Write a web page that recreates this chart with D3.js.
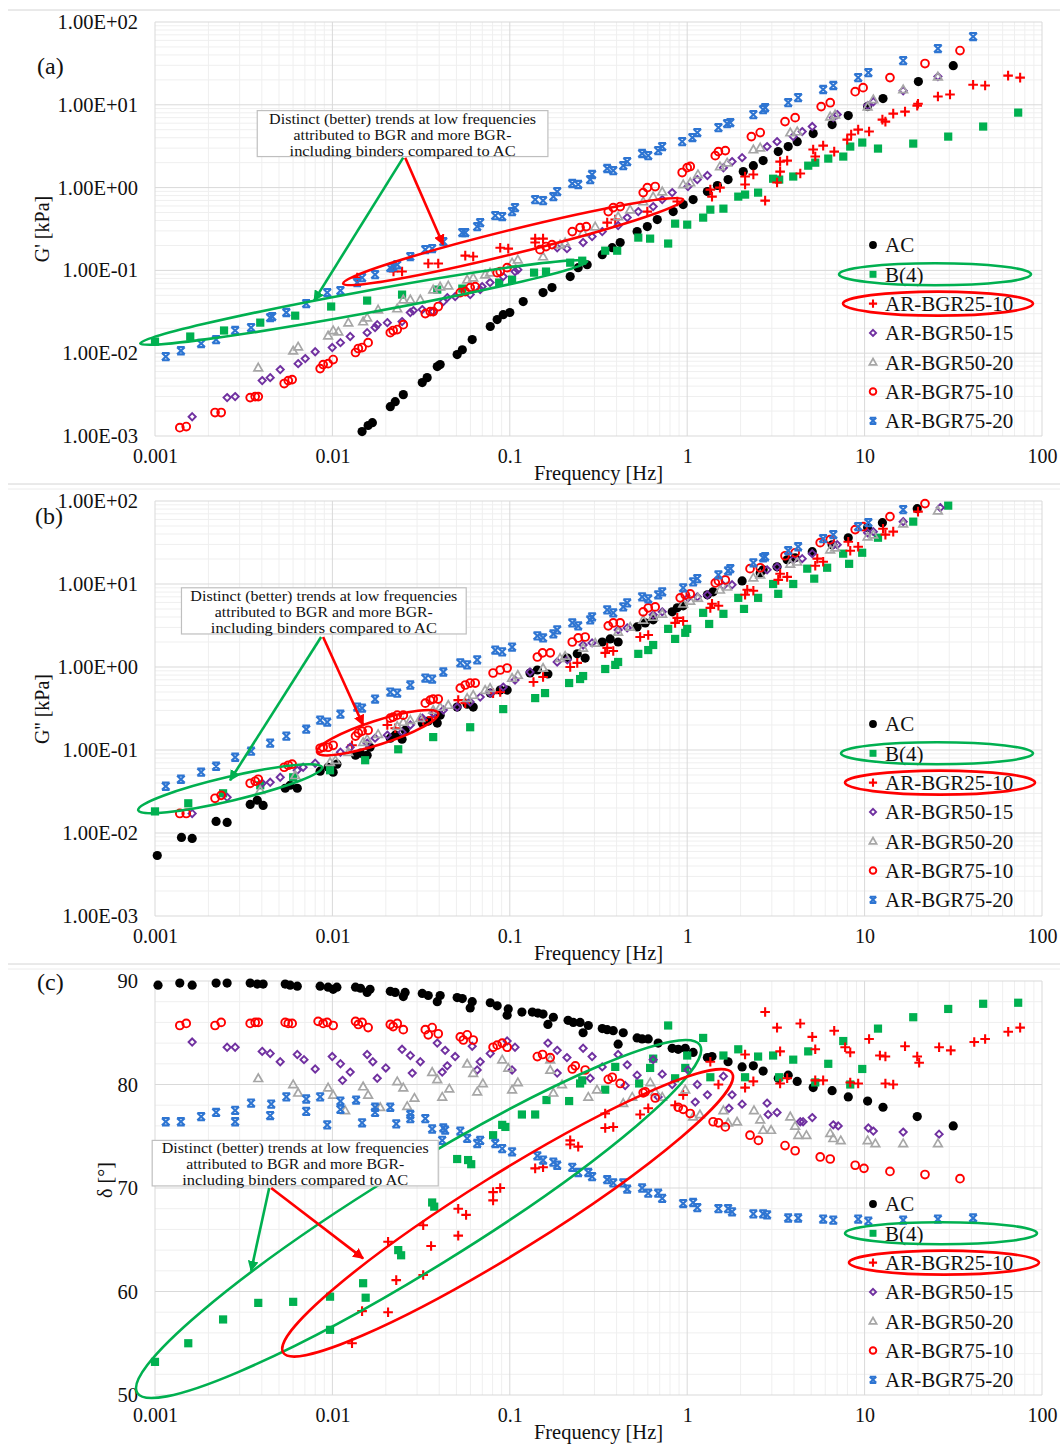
<!DOCTYPE html>
<html>
<head>
<meta charset="utf-8">
<script src="https://cdn.jsdelivr.net/npm/d3@7"></script>
<style>
  body { margin: 0; background: #fff; }
  svg text { font-family: "Liberation Serif", "Times New Roman", serif; fill: #111; }
</style>
</head>
<body>
<svg id="chart" width="1060" height="1444"></svg>
<script>
// ---- series (legend order) ----
const seriesNames = ["AC", "B(4)", "AR-BGR25-10", "AR-BGR50-15", "AR-BGR50-20", "AR-BGR75-10", "AR-BGR75-20"]
const seriesColors = ["#000000", "#00b050", "#ff0000", "#7030a0", "#a6a6a6", "#ff0000", "#2e75d2"]
const seriesShapes = ["dot", "square", "plus", "diamond", "triangle", "ring", "star"]

// ---- (a) G' [kPa] vs frequency [Hz] ----
const gp_AC = [[0.0147,0.00113],[0.0159,0.00134],[0.0168,0.00145],[0.0212,0.00226],[0.0226,0.0026],[0.0251,0.00316],[0.0321,0.00442],[0.0342,0.00507],[0.039,0.00689],[0.0405,0.00728],[0.0505,0.00962],[0.054,0.011],[0.0614,0.0146],[0.0776,0.021],[0.0849,0.0255],[0.0918,0.0292],[0.1,0.031],[0.119,0.042],[0.154,0.054],[0.173,0.062],[0.219,0.0842],[0.243,0.108],[0.273,0.117],[0.332,0.155],[0.378,0.188],[0.419,0.217],[0.522,0.294],[0.596,0.338],[0.678,0.411],[0.834,0.513],[0.949,0.624],[1.08,0.716],[1.3,0.895],[1.48,1.06],[1.7,1.25],[2.07,1.56],[2.36,1.84],[2.68,2.12],[3.26,2.72],[3.71,3.13],[4.17,3.59],[5.13,4.49],[6.56,5.77],[8.09,7.41],[10.4,9.51],[12.7,11.9],[20.1,19.1],[31.6,29.7]]
const gp_B4 = [[0.001,0.0138],[0.00158,0.0159],[0.00245,0.0188],[0.00392,0.0234],[0.00617,0.0284],[0.00984,0.0366],[0.0157,0.0432],[0.0247,0.051],[0.039,0.0586],[0.054,0.0603],[0.0871,0.0713],[0.103,0.0774],[0.137,0.094],[0.16,0.0968],[0.219,0.124],[0.256,0.131],[0.345,0.173],[0.403,0.173],[0.53,0.249],[0.618,0.242],[0.781,0.211],[0.855,0.367],[1.0,0.357],[1.23,0.434],[1.35,0.542],[1.6,0.557],[1.94,0.778],[2.12,0.823],[2.51,0.87],[3.05,1.28],[3.3,1.25],[3.96,1.36],[4.81,1.84],[5.27,2.0],[6.24,2.24],[7.58,2.37],[8.3,3.13],[9.7,3.5],[11.9,2.96],[18.8,3.4],[29.6,4.13],[46.6,5.46],[73.4,8.05]]
const gp_25_10 = [[0.0138,0.0818],[0.0221,0.0968],[0.0247,0.0968],[0.0347,0.121],[0.0395,0.121],[0.0561,0.151],[0.0622,0.147],[0.0883,0.188],[0.098,0.183],[0.139,0.242],[0.139,0.217],[0.154,0.242],[0.354,0.378],[0.393,0.411],[0.596,0.513],[0.879,0.678],[1.35,0.946],[1.53,1.0],[1.38,0.778],[2.12,1.36],[2.36,1.44],[2.12,1.09],[2.75,0.697],[3.21,1.15],[3.34,2.06],[3.66,2.12],[3.34,1.56],[4.34,1.48],[5.13,2.88],[5.84,3.21],[5.27,2.37],[6.74,2.72],[7.98,3.8],[8.4,4.37],[9.2,5.01],[10.6,4.75],[12.6,6.63],[13.1,6.27],[14.5,7.83],[16.9,8.28],[19.8,9.78],[20.0,10.3],[25.9,12.6],[30.3,13.3],[40.9,17.5],[47.8,17.1],[64.4,22.5],[75.3,21.3]]
const gp_50_15 = [[0.00162,0.00171],[0.00255,0.00291],[0.00283,0.00299],[0.00402,0.00467],[0.00446,0.00507],[0.00508,0.00634],[0.00641,0.00748],[0.00703,0.00861],[0.008,0.0104],[0.00998,0.0117],[0.0111,0.0134],[0.0126,0.0159],[0.0157,0.0177],[0.0174,0.0204],[0.0179,0.0221],[0.0204,0.0234],[0.0247,0.0241],[0.0275,0.031],[0.0286,0.0327],[0.0321,0.0336],[0.037,0.0318],[0.0422,0.042],[0.0444,0.0469],[0.0492,0.0483],[0.0598,0.051],[0.0681,0.0586],[0.0698,0.0637],[0.0774,0.0713],[0.0918,0.0842],[0.107,0.0968],[0.111,0.102],[0.185,0.188],[0.21,0.183],[0.259,0.217],[0.291,0.256],[0.332,0.294],[0.408,0.348],[0.459,0.434],[0.53,0.513],[0.643,0.59],[0.723,0.716],[0.823,0.87],[1.01,1.03],[1.14,1.25],[1.3,1.4],[1.6,1.74],[1.79,2.06],[2.04,2.3],[2.82,3.13],[3.21,3.59],[3.96,4.13],[4.45,4.75],[5.07,5.46],[6.66,7.0],[7.01,7.61],[10.4,9.78],[11.2,10.9],[16.5,14.8],[25.9,21.9]]
const gp_50_20 = [[0.00382,0.0067],[0.00601,0.0107],[0.00641,0.012],[0.00946,0.0163],[0.0101,0.0188],[0.0108,0.0182],[0.0123,0.0234],[0.0149,0.0241],[0.0157,0.0269],[0.0181,0.0336],[0.0232,0.0346],[0.0251,0.0444],[0.0275,0.0444],[0.0313,0.0444],[0.037,0.0586],[0.0405,0.0637],[0.045,0.0655],[0.0575,0.0774],[0.0622,0.0818],[0.0726,0.0889],[0.0774,0.094],[0.103,0.124],[0.111,0.135],[0.154,0.147],[0.192,0.205],[0.205,0.217],[0.259,0.286],[0.303,0.338],[0.408,0.447],[0.477,0.542],[0.565,0.678],[0.643,0.778],[0.723,0.895],[0.949,1.09],[1.04,1.15],[1.15,1.44],[1.53,1.8],[1.68,2.0],[2.36,2.88],[2.58,3.04],[3.81,4.62],[4.17,4.75],[6.4,7.2],[6.82,7.61],[10.4,9.51],[11.2,11.6],[16.5,15.3],[25.9,21.9]]
const gp_75_10 = [[0.00138,0.00126],[0.0015,0.0013],[0.00218,0.00192],[0.00236,0.00192],[0.00344,0.00291],[0.00367,0.00299],[0.00382,0.00299],[0.00535,0.0043],[0.00564,0.00467],[0.00593,0.0048],[0.00853,0.00652],[0.00887,0.00728],[0.00946,0.00748],[0.0101,0.00838],[0.0135,0.0102],[0.014,0.0114],[0.0147,0.0117],[0.0159,0.0134],[0.0212,0.0177],[0.022,0.0188],[0.0232,0.0193],[0.0251,0.0221],[0.0334,0.0301],[0.0356,0.0318],[0.037,0.0318],[0.0395,0.0366],[0.0526,0.054],[0.0561,0.0555],[0.0598,0.062],[0.0638,0.0637],[0.0849,0.094],[0.0883,0.0968],[0.0966,0.108],[0.148,0.178],[0.16,0.194],[0.173,0.205],[0.225,0.294],[0.249,0.329],[0.27,0.338],[0.359,0.513],[0.383,0.573],[0.419,0.59],[0.565,0.87],[0.596,1.0],[0.66,1.03],[0.937,1.52],[1.0,1.74],[1.04,1.8],[1.44,2.43],[1.5,2.72],[1.64,2.8],[2.3,4.13],[2.58,4.62],[3.56,6.27],[4.06,7.0],[5.69,9.51],[6.4,10.6],[8.85,14.4],[9.81,16.1],[13.9,21.3],[21.9,31.5],[34.5,45.2]]
const gp_75_20 = [[0.00115,0.0091],[0.0014,0.0107],[0.00182,0.0131],[0.00221,0.0146],[0.00283,0.0188],[0.00348,0.0204],[0.00446,0.0269],[0.00458,0.0277],[0.0055,0.031],[0.00712,0.0397],[0.00935,0.054],[0.0111,0.057],[0.0138,0.0713],[0.0147,0.0818],[0.0174,0.0889],[0.0212,0.108],[0.022,0.111],[0.0232,0.117],[0.0275,0.147],[0.0334,0.178],[0.0365,0.183],[0.0422,0.223],[0.054,0.286],[0.0561,0.286],[0.0655,0.338],[0.0681,0.378],[0.0828,0.459],[0.0906,0.447],[0.103,0.513],[0.107,0.573],[0.139,0.716],[0.154,0.697],[0.176,0.778],[0.185,0.895],[0.225,1.12],[0.243,1.09],[0.284,1.25],[0.291,1.44],[0.354,1.7],[0.383,1.6],[0.436,1.84],[0.459,2.06],[0.557,2.58],[0.603,2.43],[0.686,2.8],[0.723,3.13],[0.937,3.59],[1.07,4.02],[1.14,4.62],[1.5,5.3],[1.68,5.93],[1.75,6.1],[2.36,7.61],[2.68,8.75],[2.75,9.25],[3.71,10.6],[4.22,12.2],[5.84,15.3],[6.66,17.1],[9.2,21.3],[10.5,24.5],[16.5,34.2],[25.9,47.8],[40.9,66.7]]

// ---- (b) G'' [kPa] vs frequency [Hz] ----
const gpp_AC = [[0.00103,0.00536],[0.00141,0.00885],[0.00162,0.00861],[0.00221,0.0138],[0.00255,0.0134],[0.00344,0.0221],[0.00377,0.0248],[0.00407,0.0215],[0.00542,0.0346],[0.00578,0.0376],[0.00634,0.0346],[0.00853,0.0555],[0.00946,0.062],[0.0101,0.054],[0.0106,0.0674],[0.0135,0.0865],[0.0144,0.0915],[0.0157,0.0865],[0.0163,0.108],[0.0212,0.139],[0.0226,0.151],[0.0247,0.135],[0.0257,0.173],[0.0321,0.211],[0.0347,0.223],[0.039,0.211],[0.0405,0.263],[0.0505,0.329],[0.0575,0.357],[0.0622,0.329],[0.0776,0.485],[0.0883,0.527],[0.0966,0.527],[0.13,0.847],[0.143,0.92],[0.164,0.823],[0.211,1.28],[0.24,1.44],[0.266,1.28],[0.332,2.0],[0.368,2.18],[0.408,2.0],[0.522,3.04],[0.58,3.4],[0.643,3.7],[0.823,4.62],[0.879,5.16],[0.949,5.46],[1.3,7.41],[1.4,8.05],[2.04,10.9],[2.58,13.6],[2.68,14.8],[3.21,16.1],[3.66,19.6],[4.06,20.7],[5.07,24.5],[6.56,29.7],[8.09,36.1],[10.4,47.8],[12.6,54.8],[19.8,80.9]]
const gpp_B4 = [[0.001,0.0182],[0.00154,0.0228],[0.00242,0.0301],[0.00392,0.0376],[0.00601,0.0469],[0.0097,0.057],[0.0153,0.0753],[0.0235,0.102],[0.037,0.143],[0.0598,0.188],[0.0918,0.311],[0.139,0.422],[0.158,0.485],[0.216,0.641],[0.249,0.716],[0.259,0.778],[0.345,0.946],[0.393,1.06],[0.408,1.15],[0.53,1.44],[0.603,1.6],[0.643,1.84],[0.781,2.88],[0.855,2.18],[0.975,2.58],[1.0,2.88],[1.23,4.49],[1.33,3.3],[1.6,4.37],[1.94,6.81],[2.09,5.01],[2.51,6.81],[3.05,10.0],[3.26,7.61],[3.96,10.0],[4.75,15.3],[5.2,11.6],[6.15,15.7],[7.57,23.2],[8.18,17.5],[9.69,23.8],[11.9,36.1],[18.8,56.4],[29.6,87.9]]
const gpp_25_10 = [[0.0129,0.114],[0.0204,0.2],[0.0226,0.183],[0.0325,0.229],[0.0365,0.249],[0.0512,0.399],[0.0561,0.367],[0.0805,0.485],[0.0883,0.499],[0.136,0.659],[0.154,0.757],[0.219,1.0],[0.24,1.12],[0.345,1.48],[0.383,1.56],[0.354,1.7],[0.543,2.3],[0.603,2.43],[0.855,3.4],[0.949,3.59],[0.879,3.91],[1.35,5.16],[1.5,5.46],[1.38,5.77],[2.12,7.41],[2.36,8.28],[2.18,8.51],[3.26,11.2],[3.66,12.2],[3.34,13.3],[5.27,16.6],[5.84,18.5],[5.41,20.2],[8.3,25.2],[9.2,28.1],[8.09,32.3],[13.1,39.3],[14.5,42.7],[12.7,46.4],[20.0,74.5]]
const gpp_50_15 = [[0.00162,0.0172],[0.00255,0.0269],[0.00402,0.0397],[0.00446,0.0408],[0.00508,0.0469],[0.00634,0.057],[0.00684,0.062],[0.008,0.0693],[0.0111,0.094],[0.0126,0.108],[0.0157,0.121],[0.0174,0.139],[0.0204,0.151],[0.0247,0.164],[0.0275,0.2],[0.0321,0.242],[0.037,0.278],[0.0422,0.303],[0.0505,0.329],[0.0598,0.378],[0.0681,0.434],[0.0776,0.485],[0.0918,0.573],[0.107,0.697],[0.13,0.87],[0.185,1.15],[0.211,1.22],[0.259,1.84],[0.291,1.95],[0.408,2.8],[0.459,2.96],[0.643,4.25],[0.723,4.62],[1.01,6.81],[1.14,7.0],[1.3,7.41],[1.6,9.51],[1.79,9.78],[2.82,14.8],[3.21,16.1],[3.96,19.6],[4.45,20.2],[5.07,23.2],[6.66,29.7],[7.01,29.7],[10.4,41.5],[11.2,42.7],[16.5,56.4],[26.7,83.2]]
const gpp_50_20 = [[0.00392,0.0327],[0.00617,0.0496],[0.0097,0.0713],[0.0104,0.0753],[0.0123,0.094],[0.0149,0.124],[0.0157,0.135],[0.0181,0.155],[0.0232,0.194],[0.0251,0.217],[0.0275,0.229],[0.0313,0.242],[0.037,0.303],[0.0405,0.329],[0.045,0.348],[0.0575,0.422],[0.0622,0.459],[0.0726,0.527],[0.0774,0.557],[0.103,0.736],[0.111,0.8],[0.154,0.972],[0.192,1.28],[0.205,1.36],[0.259,1.7],[0.303,1.95],[0.408,2.65],[0.477,3.04],[0.565,3.7],[0.643,4.02],[0.723,4.37],[0.949,5.77],[1.04,6.27],[1.15,6.81],[1.53,8.51],[1.68,9.25],[2.36,11.9],[2.58,12.9],[3.81,17.5],[4.17,18.5],[6.4,25.9],[6.82,27.4],[10.4,37.2],[11.2,39.3],[16.5,53.3],[25.9,76.6]]
const gpp_75_10 = [[0.00138,0.0172],[0.0015,0.0172],[0.00218,0.0262],[0.00236,0.0284],[0.00344,0.0397],[0.00367,0.042],[0.00382,0.0444],[0.00535,0.062],[0.00564,0.0655],[0.00593,0.0674],[0.00853,0.105],[0.00887,0.108],[0.00946,0.108],[0.0101,0.114],[0.0135,0.147],[0.014,0.16],[0.0147,0.169],[0.0159,0.173],[0.0212,0.242],[0.022,0.249],[0.0232,0.263],[0.0251,0.263],[0.0334,0.367],[0.0356,0.399],[0.037,0.411],[0.0395,0.411],[0.0526,0.557],[0.0561,0.607],[0.0598,0.641],[0.0638,0.641],[0.0805,0.847],[0.0883,0.92],[0.0966,0.972],[0.143,1.32],[0.153,1.48],[0.169,1.48],[0.225,2.0],[0.243,2.24],[0.266,2.3],[0.359,3.13],[0.383,3.4],[0.419,3.4],[0.565,4.62],[0.603,5.16],[0.66,5.3],[0.913,6.81],[0.975,7.41],[1.04,7.61],[1.44,10.3],[1.5,10.9],[1.64,11.2],[2.26,15.3],[2.58,15.7],[3.56,21.9],[4.06,23.8],[5.62,31.5],[6.4,34.2],[8.85,45.2],[9.81,49.1],[13.9,64.9],[21.9,93.0]]
const gpp_75_20 = [[0.00115,0.0366],[0.0014,0.0444],[0.00182,0.054],[0.00221,0.0637],[0.00283,0.0818],[0.00348,0.0968],[0.00446,0.121],[0.0055,0.147],[0.00712,0.178],[0.00853,0.229],[0.00935,0.217],[0.0111,0.27],[0.0138,0.329],[0.0147,0.32],[0.0174,0.411],[0.0212,0.499],[0.0232,0.485],[0.0275,0.607],[0.0334,0.736],[0.0365,0.716],[0.0422,0.87],[0.0526,1.12],[0.0575,1.06],[0.0655,1.22],[0.0828,1.6],[0.0906,1.52],[0.103,1.74],[0.143,2.37],[0.154,2.24],[0.176,2.5],[0.185,2.8],[0.225,3.4],[0.243,3.13],[0.284,3.7],[0.291,4.02],[0.354,4.88],[0.383,4.49],[0.436,5.3],[0.459,5.93],[0.557,7.0],[0.603,6.63],[0.686,7.41],[0.723,8.05],[0.949,9.0],[1.08,10.6],[1.14,11.6],[1.5,12.9],[1.7,14.4],[1.75,15.3],[2.36,18.0],[2.68,20.7],[2.75,21.3],[3.71,25.2],[4.22,28.1],[5.84,35.2],[6.66,39.3],[9.2,49.1],[10.5,54.8],[16.5,78.7]]

// ---- (c) phase angle delta [deg] vs frequency [Hz] ----
const d_AC = [[0.00104,89.6],[0.00138,89.8],[0.00162,89.6],[0.00221,89.8],[0.00255,89.8],[0.00344,89.8],[0.00377,89.7],[0.00407,89.7],[0.00542,89.7],[0.00578,89.6],[0.00634,89.5],[0.00853,89.5],[0.00946,89.4],[0.0101,89.2],[0.0106,89.4],[0.0135,89.4],[0.0144,89.3],[0.0157,88.9],[0.0163,89.2],[0.0212,89.0],[0.0226,88.9],[0.0251,88.5],[0.0257,88.9],[0.0321,88.8],[0.0347,88.6],[0.039,88.0],[0.0405,88.6],[0.0505,88.4],[0.054,88.3],[0.0598,87.4],[0.0614,88.0],[0.0776,87.9],[0.0849,87.6],[0.0966,86.7],[0.098,87.3],[0.117,87.0],[0.134,87.0],[0.144,86.9],[0.154,86.8],[0.164,85.8],[0.176,86.5],[0.213,86.2],[0.228,86.0],[0.249,86.0],[0.259,85.0],[0.277,85.7],[0.332,85.4],[0.354,85.3],[0.383,85.2],[0.408,83.9],[0.436,85.0],[0.522,84.5],[0.557,84.4],[0.603,84.4],[0.686,84.0],[0.823,83.5],[0.89,83.4],[0.975,83.5],[1.08,83.1],[1.3,82.6],[1.38,82.7],[1.7,82.2],[2.04,81.7],[2.36,81.8],[2.68,81.3],[3.26,80.6],[3.71,80.9],[4.17,80.3],[5.13,79.7],[6.56,79.4],[8.09,78.8],[10.4,78.4],[12.7,77.8],[19.8,76.9],[31.6,76.0]]
const d_B4 = [[0.001,53.2],[0.00154,55.0],[0.00242,57.3],[0.00382,58.9],[0.00601,59.0],[0.0097,59.5],[0.0097,56.3],[0.0149,60.8],[0.0154,59.4],[0.0235,64.0],[0.0244,63.5],[0.0365,68.6],[0.0375,68.2],[0.0505,72.8],[0.0582,72.7],[0.0606,72.3],[0.0805,75.1],[0.0906,76.1],[0.0944,75.9],[0.117,77.1],[0.139,77.1],[0.161,78.5],[0.216,78.4],[0.249,80.1],[0.256,80.4],[0.345,79.5],[0.393,81.7],[0.536,80.1],[0.618,81.6],[0.643,82.5],[0.781,85.7],[0.855,80.6],[0.975,81.6],[1.0,82.8],[1.23,84.5],[1.35,80.7],[1.6,82.8],[1.94,83.4],[2.12,80.7],[2.51,82.7],[3.05,82.8],[3.3,80.7],[3.96,82.4],[4.81,83.2],[5.27,80.2],[6.24,82.0],[7.58,84.2],[8.3,80.0],[9.7,81.5],[11.9,85.4],[18.8,86.5],[29.6,87.3],[46.6,87.8],[73.4,87.9]]
const d_25_10 = [[0.0129,55.0],[0.0147,58.1],[0.0206,58.0],[0.0229,61.1],[0.0206,64.8],[0.0325,61.6],[0.0325,66.4],[0.036,64.4],[0.0512,68.0],[0.0567,67.4],[0.0512,65.4],[0.0805,69.6],[0.0883,70.0],[0.0805,68.8],[0.139,71.9],[0.154,72.0],[0.219,74.6],[0.219,74.2],[0.243,74.0],[0.345,77.2],[0.345,75.8],[0.383,75.9],[0.543,77.1],[0.603,77.7],[0.949,79.0],[0.855,78.0],[1.35,82.2],[1.5,80.0],[2.12,82.9],[2.12,79.7],[2.36,80.3],[2.75,87.0],[3.21,85.5],[3.34,83.2],[3.34,80.1],[3.66,80.6],[4.34,85.9],[5.07,84.6],[5.27,83.4],[5.27,80.4],[5.84,80.4],[6.74,85.2],[7.77,83.6],[8.3,83.1],[8.3,80.2],[9.2,80.1],[10.6,84.4],[12.2,82.8],[13.1,82.7],[13.1,80.1],[14.5,80.0],[16.9,83.7],[19.8,82.7],[20.3,82.1],[26.3,83.6],[30.6,83.3],[41.5,84.1],[47.8,84.4],[64.5,85.1],[75.3,85.5]]
const d_50_15 = [[0.00162,84.1],[0.00255,83.6],[0.00283,83.6],[0.00402,83.2],[0.00446,83.0],[0.00508,82.2],[0.00634,82.9],[0.00692,82.4],[0.008,81.5],[0.00998,82.7],[0.0111,82.0],[0.0114,80.4],[0.0126,81.2],[0.0157,82.9],[0.0169,82.2],[0.0179,80.6],[0.02,81.6],[0.0247,83.4],[0.0275,82.8],[0.0282,81.1],[0.0313,82.2],[0.039,84.0],[0.0432,83.3],[0.0416,81.2],[0.0492,82.7],[0.0444,81.8],[0.0614,83.7],[0.0681,82.2],[0.0655,81.4],[0.0776,83.0],[0.0966,84.2],[0.107,83.6],[0.103,81.4],[0.164,84.0],[0.185,83.3],[0.185,81.1],[0.21,82.6],[0.259,83.5],[0.291,82.7],[0.284,80.6],[0.332,81.7],[0.408,82.9],[0.459,81.9],[0.447,79.9],[0.522,80.9],[0.643,82.4],[0.723,81.0],[0.686,78.8],[0.823,80.0],[1.01,81.4],[1.14,80.0],[1.11,78.3],[1.3,79.0],[1.6,80.8],[1.79,79.0],[1.72,77.7],[2.04,78.1],[2.82,78.2],[2.86,77.1],[3.21,77.3],[4.34,76.4],[4.5,76.4],[5.07,76.8],[6.66,76.1],[7.1,76.0],[10.5,75.8],[11.2,75.5],[16.5,75.4],[26.3,75.2]]
const d_50_20 = [[0.00382,80.6],[0.00601,80.0],[0.00641,79.2],[0.00946,79.7],[0.0101,79.0],[0.0118,77.5],[0.0149,79.8],[0.0159,79.0],[0.0186,77.8],[0.0232,80.3],[0.0251,79.7],[0.029,78.7],[0.0264,77.9],[0.0365,81.2],[0.039,80.5],[0.0416,78.8],[0.0456,79.6],[0.0575,82.0],[0.0622,81.1],[0.0655,79.3],[0.0705,80.1],[0.0906,82.4],[0.098,81.6],[0.103,79.5],[0.111,80.2],[0.169,82.4],[0.169,81.4],[0.176,79.2],[0.197,80.0],[0.277,78.8],[0.31,79.5],[0.436,78.2],[0.49,78.8],[0.619,80.2],[0.66,79.3],[0.723,78.8],[0.975,79.5],[1.08,76.9],[1.18,77.1],[1.6,77.5],[1.7,76.3],[1.91,76.4],[2.38,77.5],[2.58,76.6],[2.68,75.6],[2.97,75.6],[3.81,76.9],[4.06,76.0],[4.23,75.1],[4.7,75.1],[6.4,75.3],[6.66,74.8],[7.34,74.6],[10.4,74.6],[11.5,74.3],[16.5,74.3],[25.9,74.3]]
const d_75_10 = [[0.00138,85.7],[0.0015,85.9],[0.00218,85.7],[0.00236,86.0],[0.00344,85.9],[0.00367,86.0],[0.00382,86.0],[0.00542,86.0],[0.00564,85.9],[0.00593,85.9],[0.00831,86.1],[0.00887,85.9],[0.00935,86.0],[0.0101,85.7],[0.0135,86.1],[0.014,85.8],[0.0147,86.0],[0.0159,85.5],[0.0212,85.8],[0.022,85.6],[0.0232,85.9],[0.0251,85.3],[0.0334,85.3],[0.0347,84.8],[0.0365,85.5],[0.0395,84.9],[0.0526,84.6],[0.0547,84.3],[0.0575,84.8],[0.0622,84.3],[0.0805,83.6],[0.0849,83.8],[0.0906,84.0],[0.0966,83.6],[0.143,82.7],[0.153,82.9],[0.169,82.6],[0.225,81.5],[0.234,81.8],[0.266,81.4],[0.359,80.5],[0.378,80.7],[0.419,80.1],[0.565,79.2],[0.58,79.3],[0.66,78.7],[0.89,77.8],[0.949,77.6],[1.04,77.2],[1.4,76.4],[1.5,76.3],[1.64,75.9],[2.26,75.1],[2.52,74.6],[3.56,74.1],[4.06,73.6],[5.62,73.0],[6.4,72.8],[8.85,72.2],[9.92,71.9],[13.9,71.6],[21.9,71.3],[34.5,70.9]]
const d_75_20 = [[0.00115,76.4],[0.0014,76.4],[0.00182,76.9],[0.00221,77.3],[0.00283,77.5],[0.00283,76.4],[0.00348,78.2],[0.00452,78.1],[0.00446,77.0],[0.0055,78.8],[0.00712,78.6],[0.00712,77.4],[0.00853,78.8],[0.00935,76.1],[0.0111,78.4],[0.0111,77.6],[0.0136,78.5],[0.0147,76.3],[0.0174,77.8],[0.0174,77.3],[0.0212,77.8],[0.0229,76.2],[0.0275,77.1],[0.0275,76.7],[0.0334,76.7],[0.0365,75.7],[0.0422,75.8],[0.0432,75.6],[0.0416,74.6],[0.0526,75.5],[0.0575,74.8],[0.0681,74.6],[0.0655,74.3],[0.0828,74.3],[0.0906,73.8],[0.103,73.5],[0.143,73.1],[0.154,72.7],[0.176,72.5],[0.185,72.2],[0.225,72.0],[0.243,71.5],[0.277,71.5],[0.291,71.1],[0.354,70.8],[0.383,70.5],[0.436,70.5],[0.459,69.9],[0.557,70.0],[0.603,69.5],[0.686,69.5],[0.723,69.0],[0.949,68.5],[1.08,68.6],[1.14,68.1],[1.5,68.0],[1.7,68.0],[1.79,67.7],[2.36,67.5],[2.68,67.5],[2.82,67.4],[3.71,67.1],[4.22,67.1],[5.84,67.0],[6.66,66.9],[9.2,67.0],[10.5,66.8],[16.5,66.9],[25.9,67.0],[40.9,67.1]]

// x axis
const freqTicks = [0.001, 0.01, 0.1, 1, 10, 100]
const annotationLines = ["Distinct (better) trends at low frequencies", "attributed to BGR and more BGR-", "including binders compared to AC"]

const svg = d3.select("#chart")
const W = 1060
const left = 155, right = 1042

const defs = svg.append("defs")
;[["headGreen", "#00b050"], ["headRed", "#ff0000"]].forEach(([id, c]) => {
  defs.append("marker").attr("id", id)
    .attr("viewBox", "0 0 10 10").attr("refX", 9).attr("refY", 5)
    .attr("markerWidth", 4.2).attr("markerHeight", 4.2).attr("orient", "auto")
    .append("path").attr("d", "M0,0L10,5L0,10z").attr("fill", c)
})

// thin separators between the panels
;[[10, "#d4d4d4"], [484, "#d4d4d4"], [489, "#ececec"], [964, "#d4d4d4"], [969, "#ececec"]].forEach(([y, c]) => {
  svg.append("line").attr("x1", 8).attr("x2", W).attr("y1", y).attr("y2", y).attr("stroke", c)
})

function marker (g, shape, color, x, y, s = 1) {
  switch (shape) {
    case "dot":
      g.append("circle").attr("cx", x).attr("cy", y).attr("r", 4.6 * s).attr("fill", color); break
    case "square":
      g.append("rect").attr("x", x - 4.1 * s).attr("y", y - 4.1 * s).attr("width", 8.2 * s).attr("height", 8.2 * s).attr("fill", color); break
    case "plus":
      g.append("path").attr("d", `M${x - 4.8 * s},${y}H${x + 4.8 * s}M${x},${y - 4.8 * s}V${y + 4.8 * s}`)
        .attr("stroke", color).attr("stroke-width", 2.1); break
    case "diamond":
      g.append("path").attr("d", `M${x},${y - 3.6 * s}L${x + 3.6 * s},${y}L${x},${y + 3.6 * s}L${x - 3.6 * s},${y}Z`)
        .attr("fill", "none").attr("stroke", color).attr("stroke-width", 1.9); break
    case "triangle":
      g.append("path").attr("d", `M${x},${y - 4.3 * s}L${x + 4.3 * s},${y + 3.2 * s}L${x - 4.3 * s},${y + 3.2 * s}Z`)
        .attr("fill", "none").attr("stroke", color).attr("stroke-width", 1.7); break
    case "ring":
      g.append("circle").attr("cx", x).attr("cy", y).attr("r", 3.9 * s)
        .attr("fill", "none").attr("stroke", color).attr("stroke-width", 1.9); break
    case "star":
      g.append("path").attr("d", `M${x - 3.8 * s},${y - 3.6 * s}L${x + 3.8 * s},${y + 3.6 * s}M${x + 3.8 * s},${y - 3.6 * s}L${x - 3.8 * s},${y + 3.6 * s}M${x - 3.8 * s},${y - 3.6 * s}H${x + 3.8 * s}M${x - 3.8 * s},${y + 3.6 * s}H${x + 3.8 * s}`)
        .attr("stroke", color).attr("stroke-width", 2.1); break
  }
}

function ellipseBetween (g, p1, p2, ry, color) {
  const cx = (p1[0] + p2[0]) / 2, cy = (p1[1] + p2[1]) / 2
  const rx = Math.hypot(p2[0] - p1[0], p2[1] - p1[1]) / 2
  const ang = Math.atan2(p2[1] - p1[1], p2[0] - p1[0]) * 180 / Math.PI
  g.append("ellipse").attr("cx", cx).attr("cy", cy).attr("rx", rx).attr("ry", ry)
    .attr("transform", `rotate(${ang},${cx},${cy})`)
    .attr("fill", "none").attr("stroke", color).attr("stroke-width", 2.6)
}

function drawPanel (p) {
  const g = svg.append("g")
  const x = d3.scaleLog().domain([0.001, 100]).range([left, right])
  const y = p.yScale.range([p.bottom, p.top])
  const P = d => [x(d[0]), y(d[1])]

  // grid
  const grid = g.append("g")
  const xMinor = []
  for (let e = -3; e < 2; e++) for (let k = 2; k < 10; k++) xMinor.push(k * Math.pow(10, e))
  xMinor.forEach(v => grid.append("line").attr("x1", x(v)).attr("x2", x(v)).attr("y1", p.top).attr("y2", p.bottom).attr("stroke", "#efefef"))
  p.yMinor.forEach(v => grid.append("line").attr("x1", left).attr("x2", right).attr("y1", y(v)).attr("y2", y(v)).attr("stroke", "#efefef"))
  freqTicks.forEach(v => grid.append("line").attr("x1", x(v)).attr("x2", x(v)).attr("y1", p.top).attr("y2", p.bottom).attr("stroke", "#d9d9d9"))
  p.yTicks.forEach(v => grid.append("line").attr("x1", left).attr("x2", right).attr("y1", y(v)).attr("y2", y(v)).attr("stroke", "#d9d9d9"))

  // axes labels
  const xAxis = d3.axisBottom(x).tickValues(freqTicks).tickFormat(d => String(d)).tickSize(0).tickPadding(13)
  const xa = g.append("g").attr("transform", `translate(0,${p.bottom})`).call(xAxis)
  xa.select(".domain").remove()
  xa.selectAll("text").attr("font-size", 20).attr("font-family", "Liberation Serif").attr("fill", "#111")
  const yAxis = d3.axisLeft(y).tickValues(p.yTicks).tickFormat(p.fmt).tickSize(0).tickPadding(17)
  const ya = g.append("g").attr("transform", `translate(${left},0)`).call(yAxis)
  ya.select(".domain").remove()
  ya.selectAll("text").attr("font-size", 20.5).attr("font-family", "Liberation Serif").attr("fill", "#111")

  g.append("text").attr("x", (left + right) / 2).attr("y", p.bottom + 44).attr("text-anchor", "middle")
    .attr("font-size", 20.5).text("Frequency [Hz]")
  g.append("text").attr("transform", `translate(${p.yTitleX},${p.yTitleY}) rotate(-90)`).attr("text-anchor", "middle")
    .attr("dy", "0.35em").attr("font-size", 20).text(p.yTitle)
  g.append("text").attr("x", p.labelX).attr("y", p.labelY).attr("font-size", 24).text(p.label)

  // points
  const pts = g.append("g")
  p.series.forEach((data, i) => {
    data.forEach(d => {
      if (d[1] < y.domain()[0] || d[1] > y.domain()[1]) return
      const [px, py] = P(d)
      marker(pts, seriesShapes[i], seriesColors[i], px, py)
    })
  })

  // highlight ellipses
  ellipseBetween(g, P(p.greenEll[0]), P(p.greenEll[1]), p.greenEll[2], "#00b050")
  ellipseBetween(g, P(p.redEll[0]), P(p.redEll[1]), p.redEll[2], "#ff0000")

  // annotation box with arrows
  const b0 = P(p.box[0]), b1 = P(p.box[1])
  const s = P(p.arrowFrom)
  g.append("line").attr("x1", s[0] - 1).attr("y1", s[1]).attr("x2", P(p.arrowGreen)[0]).attr("y2", P(p.arrowGreen)[1])
    .attr("stroke", "#00b050").attr("stroke-width", 2.6).attr("marker-end", "url(#headGreen)")
  g.append("line").attr("x1", s[0] + 1).attr("y1", s[1]).attr("x2", P(p.arrowRed)[0]).attr("y2", P(p.arrowRed)[1])
    .attr("stroke", "#ff0000").attr("stroke-width", 2.6).attr("marker-end", "url(#headRed)")
  g.append("rect").attr("x", b0[0]).attr("y", b0[1]).attr("width", b1[0] - b0[0]).attr("height", b1[1] - b0[1])
    .attr("fill", "#fff").attr("stroke", "#bfbfbf").attr("stroke-width", 1.2)
  const cx = (b0[0] + b1[0]) / 2
  const widths = [267, 218, 226]
  annotationLines.forEach((t, i) => {
    g.append("text").attr("x", cx).attr("y", b0[1] + 13 + i * 16).attr("text-anchor", "middle")
      .attr("font-size", 14).attr("textLength", widths[i]).attr("lengthAdjust", "spacingAndGlyphs")
      .attr("fill", "#222").text(t)
  })

  // legend
  const lg = g.append("g")
  const ly0 = p.top + 223, step = 29.3
  seriesNames.forEach((n, i) => {
    const ly = ly0 + i * step
    marker(lg, seriesShapes[i], seriesColors[i], 873, ly, 0.85)
    lg.append("text").attr("x", 885).attr("y", ly).attr("dy", "0.35em").attr("font-size", 21).text(n)
  })
  lg.append("ellipse").attr("cx", p.legEllX).attr("cy", ly0 + step).attr("rx", 96).attr("ry", 11)
    .attr("fill", "none").attr("stroke", "#00b050").attr("stroke-width", 2.6)
  lg.append("ellipse").attr("cx", p.legEllX + 3).attr("cy", ly0 + 2 * step).attr("rx", 95).attr("ry", 12)
    .attr("fill", "none").attr("stroke", "#ff0000").attr("stroke-width", 2.6)
}

const expFmt = d => {
  const e = Math.round(Math.log10(d))
  return "1.00E" + (e < 0 ? "-" : "+") + String(Math.abs(e)).padStart(2, "0")
}
const logTicks = [0.001, 0.01, 0.1, 1, 10, 100]
const logMinor = []
for (let e = -3; e < 2; e++) for (let k = 2; k < 10; k++) logMinor.push(k * Math.pow(10, e))

drawPanel({
  top: 22, bottom: 436, yScale: d3.scaleLog().domain([0.001, 100]),
  yTicks: logTicks, yMinor: logMinor, fmt: expFmt,
  yTitle: "G' [kPa]", yTitleX: 42, yTitleY: 229, label: "(a)", labelX: 37, labelY: 74,
  series: [gp_AC, gp_B4, gp_25_10, gp_50_15, gp_50_20, gp_75_10, gp_75_20],
  greenEll: [[0.000826, 0.0131], [0.273, 0.128], 11],
  redEll: [[0.0115, 0.0693], [0.949, 0.716], 12],
  box: [[0.00377, 8.51], [0.164, 2.37]],
  arrowFrom: [0.0254, 2.3], arrowGreen: [0.00789, 0.0432], arrowRed: [0.0421, 0.205],
  legEllX: 935
})

drawPanel({
  top: 501, bottom: 916, yScale: d3.scaleLog().domain([0.001, 100]),
  yTicks: logTicks, yMinor: logMinor, fmt: expFmt,
  yTitle: "G'' [kPa]", yTitleX: 42, yTitleY: 709, label: "(b)", labelX: 35, labelY: 524,
  series: [gpp_AC, gpp_B4, gpp_25_10, gpp_50_15, gpp_50_20, gpp_75_10, gpp_75_20],
  greenEll: [[0.000804, 0.0188], [0.00875, 0.062], 12],
  redEll: [[0.0082, 0.094], [0.0395, 0.278], 12],
  box: [[0.00141, 9.0], [0.0568, 2.5]],
  arrowFrom: [0.00875, 2.3], arrowGreen: [0.00265, 0.0432], arrowRed: [0.0149, 0.2],
  legEllX: 937
})

const degTicks = [50, 60, 70, 80, 90]
const degMinor = d3.range(52, 90, 2).filter(v => v % 10 !== 0)
drawPanel({
  top: 981, bottom: 1395, yScale: d3.scaleLinear().domain([50, 90]),
  yTicks: degTicks, yMinor: degMinor, fmt: d => String(d),
  yTitle: "δ [°]", yTitleX: 105, yTitleY: 1180, label: "(c)", labelX: 37, labelY: 990,
  series: [d_AC, d_B4, d_25_10, d_50_15, d_50_20, d_75_10, d_75_20],
  greenEll: [[0.000794, 50.2], [1.18, 83.8], 50],
  redEll: [[0.00528, 54.1], [1.79, 81.1], 39],
  box: [[0.000964, 74.6], [0.0395, 70.2]],
  arrowFrom: [0.00446, 70.0], arrowGreen: [0.00348, 62.0], arrowRed: [0.0149, 63.2],
  legEllX: 941
})
</script>
</body>
</html>
